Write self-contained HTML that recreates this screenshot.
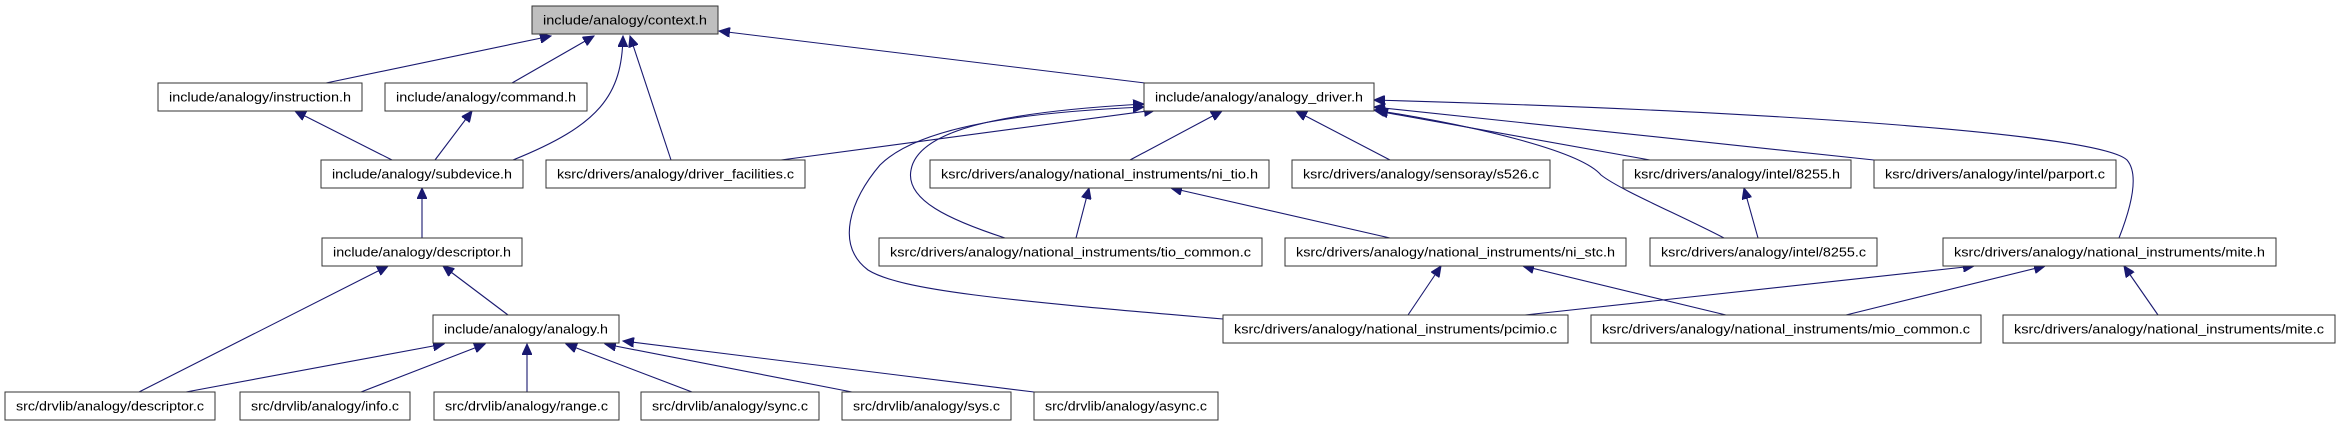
<!DOCTYPE html>
<html><head><meta charset="utf-8"><style>
html,body{margin:0;padding:0;background:#fff;}
svg{display:block;}
text{font-family:"Liberation Sans","DejaVu Sans",sans-serif;font-size:12.5px;fill:#000;}
.b{fill:#fff;stroke:#333;stroke-width:1;}
.e{fill:none;stroke:#191970;stroke-width:1.1;}
</style></head><body>
<svg width="2341" height="427" viewBox="0 0 2341 427" xmlns="http://www.w3.org/2000/svg">
<defs>
<marker id="a" markerUnits="userSpaceOnUse" markerWidth="12" markerHeight="10" refX="11" refY="5" orient="auto">
<path d="M0,0 L11,5 L0,10 Z" fill="#191970" stroke="#191970"/>
</marker>
</defs>
<g class="edges">
<!-- to context.h -->
<path class="e" marker-end="url(#a)" d="M326,83 L551,36"/>
<path class="e" marker-end="url(#a)" d="M512,83 L594,36"/>
<path class="e" marker-end="url(#a)" d="M513,160 C600,125 622,95 623,36"/>
<path class="e" marker-end="url(#a)" d="M671,160 L630,36"/>
<path class="e" marker-end="url(#a)" d="M1145,83 L719,31"/>
<!-- subdevice -->
<path class="e" marker-end="url(#a)" d="M392,160 L295,111"/>
<path class="e" marker-end="url(#a)" d="M435,160 L472,111"/>
<path class="e" marker-end="url(#a)" d="M422,238 L422,188"/>
<!-- descriptor.h -->
<path class="e" marker-end="url(#a)" d="M139,392 L388,266"/>
<path class="e" marker-end="url(#a)" d="M508,315 L443,266"/>
<!-- analogy.h -->
<path class="e" marker-end="url(#a)" d="M186,392 L444,344"/>
<path class="e" marker-end="url(#a)" d="M361,392 L485,344"/>
<path class="e" marker-end="url(#a)" d="M527,392 L527,344"/>
<path class="e" marker-end="url(#a)" d="M692,392 L566,344"/>
<path class="e" marker-end="url(#a)" d="M852,392 L605,344"/>
<path class="e" marker-end="url(#a)" d="M1034,392 L623,341"/>
<!-- analogy_driver.h -->
<path class="e" marker-end="url(#a)" d="M781,160 L1155,110"/>
<path class="e" marker-end="url(#a)" d="M1005,238 C950,220 905,200 911,170 C918,130 1000,112 1144,104"/>
<path class="e" marker-end="url(#a)" d="M1223,319 C1000,300 900,290 868,270 C835,245 850,200 880,165 C920,125 1030,112 1144,107"/>
<path class="e" marker-end="url(#a)" d="M1130,160 L1222,111"/>
<path class="e" marker-end="url(#a)" d="M1390,160 L1296,111"/>
<path class="e" marker-end="url(#a)" d="M1650,160 L1377,111"/>
<path class="e" marker-end="url(#a)" d="M1724,238 C1680,215 1620,190 1601,175 C1580,150 1470,125 1374,110"/>
<path class="e" marker-end="url(#a)" d="M1874,160 L1374,107"/>
<path class="e" marker-end="url(#a)" d="M2119,238 C2130,210 2140,175 2127,160 C2100,135 1800,112 1374,100"/>
<!-- ni_tio.h -->
<path class="e" marker-end="url(#a)" d="M1076,238 L1089,188"/>
<path class="e" marker-end="url(#a)" d="M1390,238 L1171,188"/>
<!-- ni_stc.h -->
<path class="e" marker-end="url(#a)" d="M1408,315 L1441,266"/>
<path class="e" marker-end="url(#a)" d="M1726,315 L1523,266"/>
<!-- 8255.h -->
<path class="e" marker-end="url(#a)" d="M1758,238 L1744,188"/>
<!-- mite.h -->
<path class="e" marker-end="url(#a)" d="M1525,315 L1974,266"/>
<path class="e" marker-end="url(#a)" d="M1846,315 L2045,266"/>
<path class="e" marker-end="url(#a)" d="M2158,315 L2124,266"/>
</g>
<g class="nodes">
<rect x="532" y="6" width="186" height="28" fill="#bfbfbf" stroke="#333"/><text x="625" y="24.5" text-anchor="middle" textLength="164" lengthAdjust="spacingAndGlyphs">include/analogy/context.h</text>

<rect class="b" x="158" y="83" width="204" height="28"/><text x="260" y="101.5" text-anchor="middle" textLength="182" lengthAdjust="spacingAndGlyphs">include/analogy/instruction.h</text>
<rect class="b" x="385" y="83" width="202" height="28"/><text x="486" y="101.5" text-anchor="middle" textLength="180" lengthAdjust="spacingAndGlyphs">include/analogy/command.h</text>
<rect class="b" x="1144" y="83" width="230" height="28"/><text x="1259" y="101.5" text-anchor="middle" textLength="208" lengthAdjust="spacingAndGlyphs">include/analogy/analogy_driver.h</text>

<rect class="b" x="321" y="160" width="202" height="28"/><text x="422" y="178.5" text-anchor="middle" textLength="180" lengthAdjust="spacingAndGlyphs">include/analogy/subdevice.h</text>
<rect class="b" x="546" y="160" width="259" height="28"/><text x="675.5" y="178.5" text-anchor="middle" textLength="237" lengthAdjust="spacingAndGlyphs">ksrc/drivers/analogy/driver_facilities.c</text>
<rect class="b" x="930" y="160" width="339" height="28"/><text x="1099.5" y="178.5" text-anchor="middle" textLength="317" lengthAdjust="spacingAndGlyphs">ksrc/drivers/analogy/national_instruments/ni_tio.h</text>
<rect class="b" x="1292" y="160" width="258" height="28"/><text x="1421" y="178.5" text-anchor="middle" textLength="236" lengthAdjust="spacingAndGlyphs">ksrc/drivers/analogy/sensoray/s526.c</text>
<rect class="b" x="1623" y="160" width="228" height="28"/><text x="1737" y="178.5" text-anchor="middle" textLength="206" lengthAdjust="spacingAndGlyphs">ksrc/drivers/analogy/intel/8255.h</text>
<rect class="b" x="1874" y="160" width="242" height="28"/><text x="1995" y="178.5" text-anchor="middle" textLength="220" lengthAdjust="spacingAndGlyphs">ksrc/drivers/analogy/intel/parport.c</text>

<rect class="b" x="322" y="238" width="200" height="28"/><text x="422" y="256.5" text-anchor="middle" textLength="178" lengthAdjust="spacingAndGlyphs">include/analogy/descriptor.h</text>
<rect class="b" x="879" y="238" width="383" height="28"/><text x="1070.5" y="256.5" text-anchor="middle" textLength="361" lengthAdjust="spacingAndGlyphs">ksrc/drivers/analogy/national_instruments/tio_common.c</text>
<rect class="b" x="1285" y="238" width="341" height="28"/><text x="1455.5" y="256.5" text-anchor="middle" textLength="319" lengthAdjust="spacingAndGlyphs">ksrc/drivers/analogy/national_instruments/ni_stc.h</text>
<rect class="b" x="1650" y="238" width="227" height="28"/><text x="1763.5" y="256.5" text-anchor="middle" textLength="205" lengthAdjust="spacingAndGlyphs">ksrc/drivers/analogy/intel/8255.c</text>
<rect class="b" x="1943" y="238" width="333" height="28"/><text x="2109.5" y="256.5" text-anchor="middle" textLength="311" lengthAdjust="spacingAndGlyphs">ksrc/drivers/analogy/national_instruments/mite.h</text>

<rect class="b" x="433" y="315" width="186" height="28"/><text x="526" y="333.5" text-anchor="middle" textLength="164" lengthAdjust="spacingAndGlyphs">include/analogy/analogy.h</text>
<rect class="b" x="1223" y="315" width="345" height="28"/><text x="1395.5" y="333.5" text-anchor="middle" textLength="323" lengthAdjust="spacingAndGlyphs">ksrc/drivers/analogy/national_instruments/pcimio.c</text>
<rect class="b" x="1591" y="315" width="390" height="28"/><text x="1786" y="333.5" text-anchor="middle" textLength="368" lengthAdjust="spacingAndGlyphs">ksrc/drivers/analogy/national_instruments/mio_common.c</text>
<rect class="b" x="2003" y="315" width="332" height="28"/><text x="2169" y="333.5" text-anchor="middle" textLength="310" lengthAdjust="spacingAndGlyphs">ksrc/drivers/analogy/national_instruments/mite.c</text>

<rect class="b" x="5" y="392" width="210" height="28"/><text x="110" y="410.5" text-anchor="middle" textLength="188" lengthAdjust="spacingAndGlyphs">src/drvlib/analogy/descriptor.c</text>
<rect class="b" x="240" y="392" width="170" height="28"/><text x="325" y="410.5" text-anchor="middle" textLength="148" lengthAdjust="spacingAndGlyphs">src/drvlib/analogy/info.c</text>
<rect class="b" x="434" y="392" width="185" height="28"/><text x="526.5" y="410.5" text-anchor="middle" textLength="163" lengthAdjust="spacingAndGlyphs">src/drvlib/analogy/range.c</text>
<rect class="b" x="641" y="392" width="178" height="28"/><text x="730" y="410.5" text-anchor="middle" textLength="156" lengthAdjust="spacingAndGlyphs">src/drvlib/analogy/sync.c</text>
<rect class="b" x="842" y="392" width="169" height="28"/><text x="926.5" y="410.5" text-anchor="middle" textLength="147" lengthAdjust="spacingAndGlyphs">src/drvlib/analogy/sys.c</text>
<rect class="b" x="1034" y="392" width="184" height="28"/><text x="1126" y="410.5" text-anchor="middle" textLength="162" lengthAdjust="spacingAndGlyphs">src/drvlib/analogy/async.c</text>
</g>
</svg>
</body></html>
